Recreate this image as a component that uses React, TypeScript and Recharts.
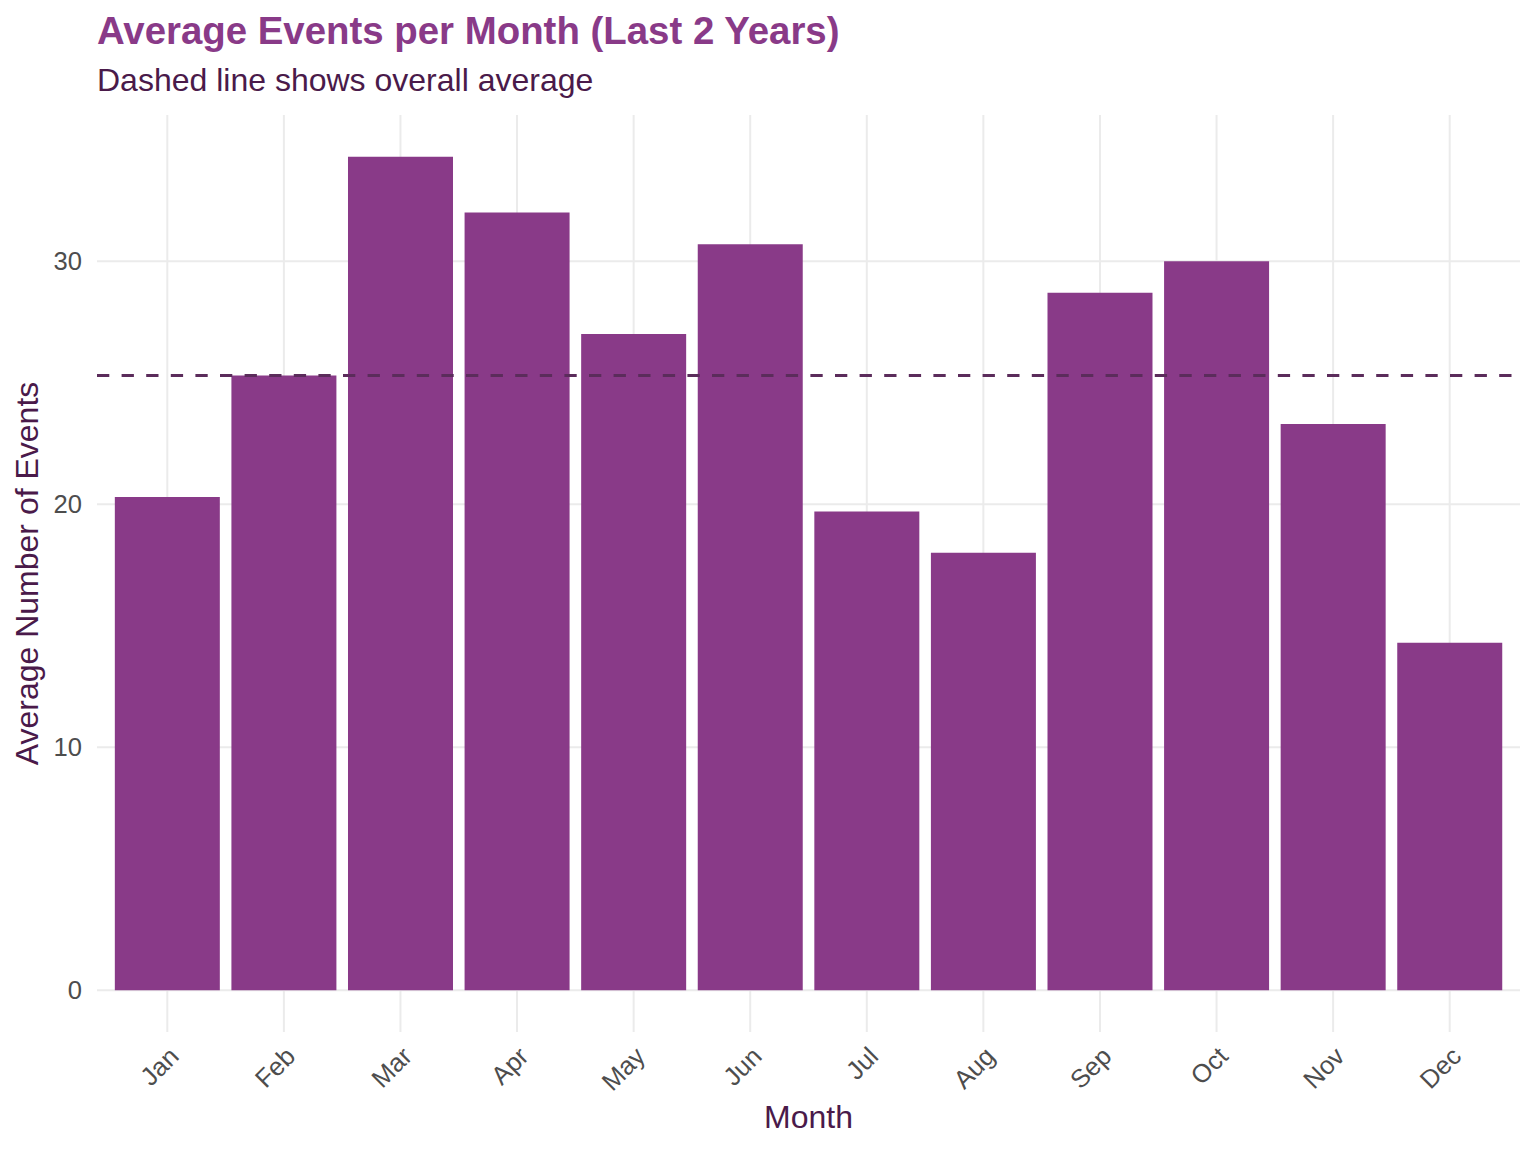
import React from 'react';
import { BarChart, Bar, XAxis, YAxis, CartesianGrid, ReferenceLine } from 'recharts';

const months = ['Jan', 'Feb', 'Mar', 'Apr', 'May', 'Jun', 'Jul', 'Aug', 'Sep', 'Oct', 'Nov', 'Dec'];
const avgEvents = [20.3, 25.3, 34.3, 32.0, 27.0, 30.7, 19.7, 18.0, 28.7, 30.0, 23.3, 14.3];
const overallAverage = 25.3;
const yTicks = [0, 10, 20, 30];

const data = months.map((month, i) => ({ month, events: avgEvents[i] }));

const FONT = '"Liberation Sans", Arial, Helvetica, sans-serif';
const BAR = '#893A88';
const DARK = '#4A1A4A';
const GREY = '#4D4D4D';

const MonthTick = (props: any) => {
  const { x, y, payload } = props;
  const ax = x + 13;
  const ay = y + 26;
  return (
    <text
      x={ax}
      y={ay}
      textAnchor="end"
      fill={GREY}
      fontSize={25.6}
      fontFamily={FONT}
      transform={`rotate(-45 ${ax} ${ay})`}
    >
      {payload.value}
    </text>
  );
};

export default function App() {
  return (
    <div style={{ position: 'absolute', left: 0, top: 0, width: 1536, height: 1152, background: '#fff', fontFamily: FONT }}>
      <BarChart
        width={1536}
        height={1152}
        data={data}
        margin={{ top: 115, right: 16, bottom: 0, left: 0 }}
        barCategoryGap="5%"
      >
        <CartesianGrid stroke="#EBEBEB" strokeWidth={2} syncWithTicks />
        <XAxis
          dataKey="month"
          height={120}
          interval={0}
          padding={{ left: 12, right: 12 }}
          axisLine={false}
          tickLine={false}
          tickSize={0}
          tickMargin={0}
          tick={<MonthTick />}
        />
        <YAxis
          type="number"
          width={97}
          domain={[-1.715, 36.015]}
          allowDataOverflow
          ticks={yTicks}
          axisLine={false}
          tickLine={false}
          tickSize={0}
          tickMargin={15}
          tick={{ fill: GREY, fontSize: 25.6, fontFamily: FONT }}
        />
        <Bar dataKey="events" fill={BAR} isAnimationActive={false} />
        <ReferenceLine y={overallAverage} stroke="#5B2C5B" strokeWidth={3} strokeDasharray="12.3 12.3" />
      </BarChart>
      <svg
        width={1536}
        height={1152}
        style={{ position: 'absolute', left: 0, top: 0, pointerEvents: 'none' }}
      >
        <text x={97} y={44} fill={BAR} fontSize={38.4} fontWeight="bold" fontFamily={FONT}>
          Average Events per Month (Last 2 Years)
        </text>
        <text x={97} y={91} fill={DARK} fontSize={32} fontFamily={FONT}>
          Dashed line shows overall average
        </text>
        <text x={808.5} y={1128} fill={DARK} fontSize={32} fontFamily={FONT} textAnchor="middle">
          Month
        </text>
        <text
          x={38}
          y={573.5}
          fill={DARK}
          fontSize={32}
          fontFamily={FONT}
          textAnchor="middle"
          transform="rotate(-90 38 573.5)"
        >
          Average Number of Events
        </text>
      </svg>
    </div>
  );
}
